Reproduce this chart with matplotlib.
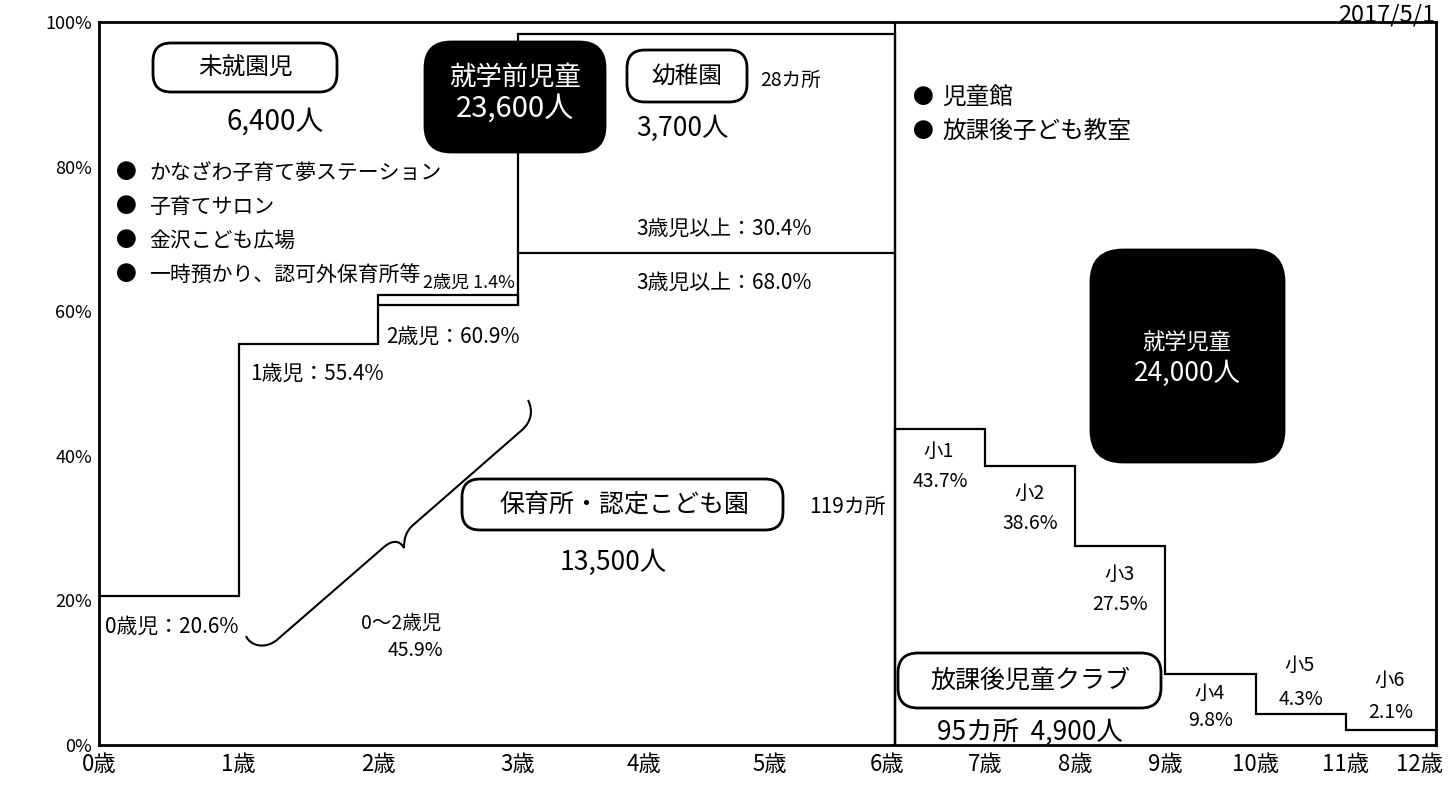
import numpy as np
import matplotlib
matplotlib.use("Agg")
import matplotlib.pyplot as plt
from matplotlib.patches import FancyBboxPatch, PathPatch
from matplotlib.path import Path
from matplotlib.transforms import ScaledTranslation

plt.rcParams['font.family'] = ['Noto Sans CJK JP', 'DejaVu Sans']

# ---------------- data ----------------
ages = list(range(13))
age_labels = [f"{a}歳" for a in ages]
y_ticks = [0, 20, 40, 60, 80, 100]
y_tick_labels = [f"{v}%" for v in y_ticks]

# 保育所・認定こども園 (利用率, cumulative from 0)
hoiku_edges = [0, 1, 2, 3, 6]
hoiku_rates = [20.6, 55.4, 60.9, 68.0]
# 2歳児 extra (1.4%) stacked on 2歳児 rate
extra_2sai = 1.4
# 幼稚園 3歳児以上 (30.4%) stacked on 保育所 3歳児以上
youchien_rate = 30.4

# 放課後児童クラブ 利用率 by grade
club_edges = [6, 7, 8, 9, 10, 11, 12]
club_grades = ["小1", "小2", "小3", "小4", "小5", "小6"]
club_rates = [43.7, 38.6, 27.5, 9.8, 4.3, 2.1]

# ---------------- layout ----------------
W, H = 1456, 788
fig = plt.figure(figsize=(W / 100, H / 100), dpi=100)
ax = fig.add_axes([99 / W, 1 - 745 / H, (1436 - 99) / W, (745 - 22) / H])

# piecewise-linear x scale: preschool years wider than school years
S2, S3 = 0.900, 0.6457


def fwd(x):
    x = np.asarray(x, dtype=float)
    return np.where(x < 3, x, np.where(x < 6, 3 + (x - 3) * S2, 3 + 3 * S2 + (x - 6) * S3))


def inv(u):
    u = np.asarray(u, dtype=float)
    return np.where(u < 3, u, np.where(u < 3 + 3 * S2, 3 + (u - 3) / S2, 6 + (u - 3 - 3 * S2) / S3))


ax.set_xscale('function', functions=(fwd, inv))
ax.set_xlim(0, 12)
ax.set_ylim(0, 100)

LW = 1.6
kw = dict(color='black', lw=LW)
ax.stairs(hoiku_rates, hoiku_edges, baseline=0, **kw)
ax.stairs([hoiku_rates[2] + extra_2sai], [2, 3], baseline=hoiku_rates[2], **kw)
ax.stairs([hoiku_rates[3] + youchien_rate], [3, 6], baseline=hoiku_rates[3], **kw)
ax.stairs(club_rates, club_edges, baseline=0, **kw)
ax.axvline(6, **kw)

for s in ax.spines.values():
    s.set_linewidth(2.0)

ax.set_xticks(ages)
ax.set_xticklabels(age_labels, fontsize=16)
ax.set_yticks(y_ticks)
ax.set_yticklabels(y_tick_labels, fontsize=13)
ax.tick_params(length=0)
ax.tick_params(axis='x', pad=6)
ax.tick_params(axis='y', pad=5)
# nudge the crowded right-hand labels as in the original
tl = ax.get_xticklabels()
for idx, shift in [(6, -8), (12, -16)]:
    tl[idx].set_transform(tl[idx].get_transform() +
                          ScaledTranslation(shift / 100, 0, fig.dpi_scale_trans))


def lab(x, y, s, dx, dy, size=14, ha='center'):
    ax.annotate(s, xy=(x, y), xytext=(dx, dy), textcoords='offset pixels',
                ha=ha, va='center', fontsize=size)


# 保育所 labels
lab(0, hoiku_rates[0], f"0歳児：{hoiku_rates[0]}%", 6, -31, 15, 'left')
lab(1, hoiku_rates[1], f"1歳児：{hoiku_rates[1]}%", 11, -29, 15, 'left')
lab(2, hoiku_rates[2], f"2歳児：{hoiku_rates[2]}%", 8, -32, 15, 'left')
lab(3, hoiku_rates[2] + extra_2sai, f"2歳児 {extra_2sai}%", -3, 12, 13, 'right')
lab(4.5, hoiku_rates[3], f"3歳児以上：{youchien_rate}%", 18, 25, 15)
lab(4.5, hoiku_rates[3], f"3歳児以上：{hoiku_rates[3]:.1f}%", 18, -29, 15)

# 放課後児童クラブ labels
offs = [(-22, -52), (-28, -58), (-28, -58), (-19, -46), (48, 14), (49, 17)]
for i, (g, r) in enumerate(zip(club_grades, club_rates)):
    d1, d2 = offs[i]
    lab(club_edges[i], r, g, 44, d1, 14)
    lab(club_edges[i], r, f"{r}%", 45, d2, 14)


# ---------------- annotations (pixel positions) ----------------
def ftext(x, y, s, size, ha='center', va='center', **k):
    fig.text(x / W, 1 - y / H, s, fontsize=size, ha=ha, va=va, zorder=5, **k)


def rbox(x0, y0, x1, y1, r, fc='white', ec='black', lw=2.0):
    p = FancyBboxPatch((x0 / 100, (H - y1) / 100), (x1 - x0) / 100, (y1 - y0) / 100,
                       boxstyle=f"round,pad=0,rounding_size={r / 100}",
                       transform=fig.dpi_scale_trans, fc=fc, ec=ec, lw=lw, zorder=2)
    fig.add_artist(p)


ftext(1435, 15, "2017/5/1", 17, ha='right')

# 未就園児
rbox(153, 43, 337, 92, 18)
ftext(245, 67, "未就園児", 17)
ftext(275, 122, "6,400人", 20)
for yy, s in zip([173, 207, 241, 275],
                 ["かなざわ子育て夢ステーション", "子育てサロン", "金沢こども広場", "一時預かり、認可外保育所等"]):
    ftext(126, yy, "●", 15)
    ftext(149, yy, s, 15, ha='left')

# 就学前児童
rbox(425, 42, 605, 152, 26, fc='black')
ftext(515, 77, "就学前児童", 19, color='white')
ftext(515, 109, "23,600人", 21, color='white')

# 幼稚園
rbox(627, 50, 747, 102, 18)
ftext(687, 76, "幼稚園", 17)
ftext(760, 80, "28カ所", 14, ha='left')
ftext(682, 128, "3,700人", 19)

# 保育所・認定こども園
rbox(462, 479, 783, 530, 18)
ftext(624, 505, "保育所・認定こども園", 18)
ftext(847, 507, "119カ所", 15)
ftext(613, 562, "13,500人", 19)

# 0～2歳児
ftext(441, 623, "0～2歳児", 14, ha='right')
ftext(443, 650, "45.9%", 14, ha='right')

# brace
def P(x, y):
    return (x / 100, (H - y) / 100)


verts = [P(246, 636),
         P(250, 646), P(266, 650), P(278, 639),
         P(384, 547),
         P(392, 540), P(400, 540), P(404, 548),
         P(404, 538), P(406, 532), P(412, 526),
         P(522, 430),
         P(532, 421), P(533, 410), P(528, 400)]
codes = [Path.MOVETO,
         Path.CURVE4, Path.CURVE4, Path.CURVE4,
         Path.LINETO,
         Path.CURVE4, Path.CURVE4, Path.CURVE4,
         Path.CURVE4, Path.CURVE4, Path.CURVE4,
         Path.LINETO,
         Path.CURVE4, Path.CURVE4, Path.CURVE4]
fig.add_artist(PathPatch(Path(verts, codes), fc='none', ec='black', lw=1.5,
                         transform=fig.dpi_scale_trans, zorder=2))

# 就学児童 side
for yy, s in zip([98, 132], ["児童館", "放課後子ども教室"]):
    ftext(923, yy, "●", 15)
    ftext(942, yy, s, 17, ha='left')

rbox(1091, 250, 1284, 462, 32, fc='black')
ftext(1187, 343, "就学児童", 16, color='white')
ftext(1187, 373, "24,000人", 19, color='white')

# 放課後児童クラブ
rbox(898, 653, 1161, 708, 20)
ftext(1030, 681, "放課後児童クラブ", 18)
ftext(1030, 733, "95カ所  4,900人", 19)

fig.savefig("out.png", dpi=100)
